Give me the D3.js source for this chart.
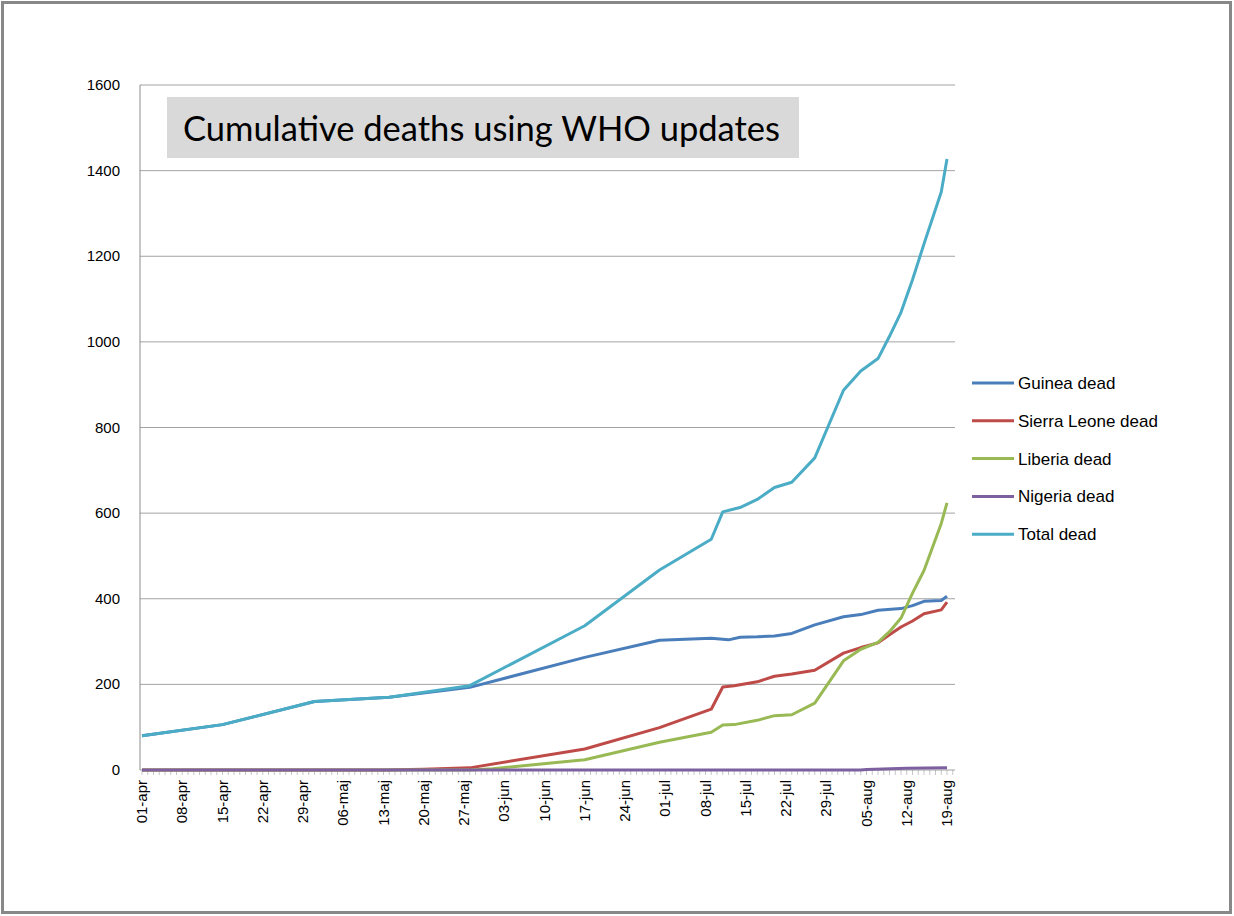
<!DOCTYPE html>
<html><head><meta charset="utf-8">
<script src="https://cdn.jsdelivr.net/npm/d3@7"></script>
<style>body{margin:0;background:#fff}</style>
</head><body><svg id="c" width="1234" height="916"></svg>
<script>
// values (date "dd-mm", deaths)
const guinea = [["01-04",80],["15-04",106],["01-05",160],["14-05",170],["28-05",193],["17-06",263],["30-06",303],["09-07",308],["12-07",304],["14-07",310],["17-07",311],["20-07",313],["23-07",319],["27-07",339],["01-08",358],["04-08",363],["07-08",373],["11-08",377],["13-08",384],["15-08",394],["18-08",396],["19-08",406]];
const sierra = [["01-04",0],["13-05",0],["20-05",2],["28-05",5],["17-06",49],["30-06",99],["09-07",142],["11-07",194],["13-07",197],["17-07",206],["20-07",219],["23-07",224],["27-07",233],["01-08",273],["04-08",286],["07-08",297],["09-08",316],["11-08",334],["13-08",348],["15-08",365],["18-08",374],["19-08",392]];
const liberia = [["01-04",0],["28-05",0],["01-06",3],["17-06",24],["30-06",65],["09-07",88],["11-07",105],["13-07",106],["17-07",116],["20-07",127],["23-07",129],["27-07",156],["01-08",255],["04-08",282],["07-08",298],["09-08",323],["11-08",355],["13-08",413],["15-08",466],["18-08",576],["19-08",624]];
const nigeria = [["01-04",0],["04-08",0],["05-08",1],["12-08",4],["19-08",5]];
const total = [["01-04",80],["15-04",106],["01-05",160],["14-05",170],["28-05",197],["17-06",337],["30-06",467],["09-07",539],["11-07",603],["14-07",613],["17-07",632],["20-07",660],["23-07",672],["27-07",729],["01-08",887],["04-08",932],["07-08",961],["09-08",1013],["11-08",1069],["13-08",1145],["15-08",1229],["18-08",1350],["19-08",1427]];
const seriesNames = ["Guinea dead","Sierra Leone dead","Liberia dead","Nigeria dead","Total dead"];
const seriesColors = ["#4A7EBB","#BE4B48","#98B954","#7D60A0","#4BACC6"];
const tickLabels = ["01-apr","08-apr","15-apr","22-apr","29-apr","06-maj","13-maj","20-maj","27-maj","03-jun","10-jun","17-jun","24-jun","01-jul","08-jul","15-jul","22-jul","29-jul","05-aug","12-aug","19-aug"];
const yTicks = [0,200,400,600,800,1000,1200,1400,1600];

const parse = s => { const [d,m] = s.split("-").map(Number); return new Date(2014, m-1, d); };
const svg = d3.select("#c");
svg.append("rect").attr("x",2.5).attr("y",2.5).attr("width",1228).attr("height",910)
  .attr("fill","#fff").attr("stroke","#888").attr("stroke-width",3);

const x = d3.scaleTime().domain([parse("01-04"), parse("19-08")]).range([142, 947]);
const y = d3.scaleLinear().domain([0,1600]).range([770, 85]);

const g = svg.append("g");
g.selectAll(".grid").data(yTicks).join("line")
  .attr("x1",140).attr("x2",955).attr("y1",d=>y(d)).attr("y2",d=>y(d))
  .attr("stroke","#8c8c8c").attr("stroke-width",0.8);
g.append("line").attr("x1",140).attr("x2",140).attr("y1",85).attr("y2",770).attr("stroke","#8c8c8c");
g.selectAll(".yl").data(yTicks).join("text")
  .attr("x",120).attr("y",d=>y(d)+5).attr("text-anchor","end")
  .attr("font-family","Liberation Sans, Arial").attr("font-size",15).text(d=>d);
const xticks = tickLabels.map((t,i)=>d3.timeDay.offset(parse("01-04"), i*7));
g.selectAll(".xt").data(d3.timeDay.range(parse("01-04"), d3.timeDay.offset(parse("19-08"),2))).join("line")
  .attr("x1",d=>x(d)).attr("x2",d=>x(d)).attr("y1",770).attr("y2",775).attr("stroke","#8c8c8c").attr("stroke-width",0.5);
g.selectAll(".xl").data(xticks).join("text")
  .attr("transform",(d)=>`translate(${x(d)+5},780) rotate(-90)`).attr("text-anchor","end")
  .attr("font-family","Liberation Sans, Arial").attr("font-size",15)
  .text((d,i)=>tickLabels[i]);

const line = d3.line().x(d=>x(parse(d[0]))).y(d=>y(d[1]));
[guinea, sierra, liberia, nigeria, total].forEach((s,i)=>{
  g.append("path").attr("d",line(s)).attr("fill","none")
   .attr("stroke",seriesColors[i]).attr("stroke-width",3).attr("stroke-linejoin","round");
});

// title
svg.append("rect").attr("x",167).attr("y",97).attr("width",632).attr("height",61).attr("fill","#d9d9d9");
svg.append("text").attr("x",183).attr("y",141).attr("font-family","Lato, Open Sans").attr("font-size",34.5)
  .text("Cumulative deaths using WHO updates");

// legend
const lg = svg.append("g").attr("transform","translate(972,383)");
seriesNames.forEach((n,i)=>{
  lg.append("line").attr("x1",0).attr("x2",42).attr("y1",i*37.8).attr("y2",i*37.8)
    .attr("stroke",seriesColors[i]).attr("stroke-width",3);
  lg.append("text").attr("x",46).attr("y",i*37.8+6).attr("font-family","Liberation Sans, Arial")
    .attr("font-size",17).text(n);
});
</script></body></html>
